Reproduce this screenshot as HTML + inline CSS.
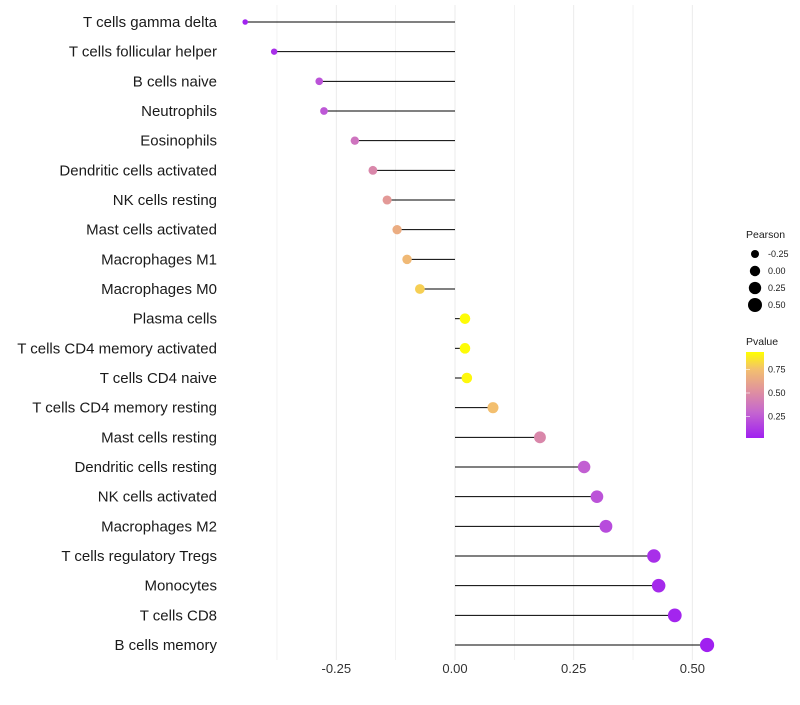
<!DOCTYPE html>
<html><head><meta charset="utf-8"><style>
body{margin:0;background:#fff;font-family:"Liberation Sans",sans-serif;}
</style></head><body>
<svg id="chart" width="800" height="700" xmlns="http://www.w3.org/2000/svg">
<g id="grid"></g>
<g id="marks"></g>
<g id="ylabels" font-size="15" fill="#1a1a1a" text-anchor="end"></g>
<g id="xlabels" font-size="13" fill="#333" text-anchor="middle"></g>
<g font-size="9" fill="#1a1a1a">
  <text x="746" y="238" font-size="10.5">Pearson</text>
  <g id="sizeLegend"></g>
  <text x="746" y="345" font-size="10.5">Pvalue</text>
  <defs><linearGradient id="pg" x1="0" y1="1" x2="0" y2="0">
    <stop offset="0" stop-color="#A020F0"/><stop offset="0.3" stop-color="#C566CF"/>
    <stop offset="0.55" stop-color="#E0929E"/><stop offset="0.8" stop-color="#F3C06E"/>
    <stop offset="1" stop-color="#FFFF00"/></linearGradient></defs>
  <rect x="746" y="352" width="18" height="86" fill="url(#pg)"/>
  <g id="colorTicks"></g>
</g>
</svg>
<script>
const categories=["T cells gamma delta","T cells follicular helper","B cells naive","Neutrophils","Eosinophils","Dendritic cells activated","NK cells resting","Mast cells activated","Macrophages M1","Macrophages M0","Plasma cells","T cells CD4 memory activated","T cells CD4 naive","T cells CD4 memory resting","Mast cells resting","Dendritic cells resting","NK cells activated","Macrophages M2","T cells regulatory  Tregs ","Monocytes","T cells CD8","B cells memory"];
const pearson=[-0.442,-0.381,-0.286,-0.276,-0.211,-0.173,-0.143,-0.122,-0.101,-0.074,0.021,0.021,0.025,0.080,0.179,0.272,0.299,0.318,0.419,0.429,0.463,0.531];
const pvalue=[0.03,0.08,0.22,0.24,0.37,0.47,0.56,0.66,0.72,0.8,0.93,0.93,0.92,0.75,0.47,0.27,0.22,0.19,0.08,0.06,0.04,0.02];
const xTicks=[-0.25,0,0.25,0.5];
const xTickLabels=["-0.25","0.00","0.25","0.50"];
const sizeBreaks=[-0.25,0,0.25,0.5];
const sizeLabels=["-0.25","0.00","0.25","0.50"];
const pTicks=[0.25,0.5,0.75];
const pTickLabels=["0.25","0.50","0.75"];

const NS="http://www.w3.org/2000/svg";
const x=v=>455+v*474.7;
const y=i=>22+i*29.667;
const r=v=>Math.sqrt(Math.max(4,27+44*v));
const stops=[[0,[160,32,240]],[0.3,[197,102,207]],[0.55,[224,146,158]],[0.8,[243,192,110]],[1,[255,255,0]]];
function col(p){let t=(p-0.02)/0.92;t=Math.max(0,Math.min(1,t));
 for(let k=1;k<stops.length;k++){if(t<=stops[k][0]){const a=stops[k-1],b=stops[k];const f=(t-a[0])/(b[0]-a[0]);
 return "rgb("+a[1].map((c,j)=>Math.round(c+(b[1][j]-c)*f)).join(",")+")";}}return "rgb(255,255,0)";}
function mk(tag,attrs,parent){const e=document.createElementNS(NS,tag);for(const k in attrs)e.setAttribute(k,attrs[k]);parent.appendChild(e);return e;}
const grid=document.getElementById('grid');
for(let v=-0.5;v<=0.55;v+=0.125){if(x(v)<225||x(v)>740)continue;
 const l=mk('line',{x1:x(v),x2:x(v),y1:5,y2:660,stroke:'#ebebeb','stroke-width':(Math.abs(v*4-Math.round(v*4))<1e-6)?1:0.6},grid);
 
 }
const marks=document.getElementById('marks'),yl=document.getElementById('ylabels'),xl=document.getElementById('xlabels');
categories.forEach((c,i)=>{
 const ln=mk('line',{x1:x(0),x2:x(pearson[i]),y1:y(i),y2:y(i),stroke:'#000','stroke-width':1},marks);
 
 
 const d=mk('circle',{cx:x(pearson[i]),cy:y(i),r:r(pearson[i]),fill:col(pvalue[i])},marks);
 
 
 const t=mk('text',{x:217,y:y(i)+5},yl);t.textContent=c;
 
 
});
xTicks.forEach((v,i)=>{const t=mk('text',{x:x(v),y:673},xl);t.textContent=xTickLabels[i];
 
 });
const sl=document.getElementById('sizeLegend');
sizeBreaks.forEach((v,i)=>{const cy=254+i*17;
 const c=mk('circle',{cx:755,cy:cy,r:r(v),fill:'#000'},sl);
 
 
 const t=mk('text',{x:768,y:cy+3},sl);t.textContent=sizeLabels[i];
 
 });
const ct=document.getElementById('colorTicks');
pTicks.forEach((p,i)=>{const yy=440-p*94;
 const l1=mk('line',{x1:746,x2:750,y1:yy,y2:yy,stroke:'#fff','stroke-width':0.6},ct);
 
 
 const t=mk('text',{x:768,y:yy+3},ct);t.textContent=pTickLabels[i];
 
 });
</script>
</body></html>
